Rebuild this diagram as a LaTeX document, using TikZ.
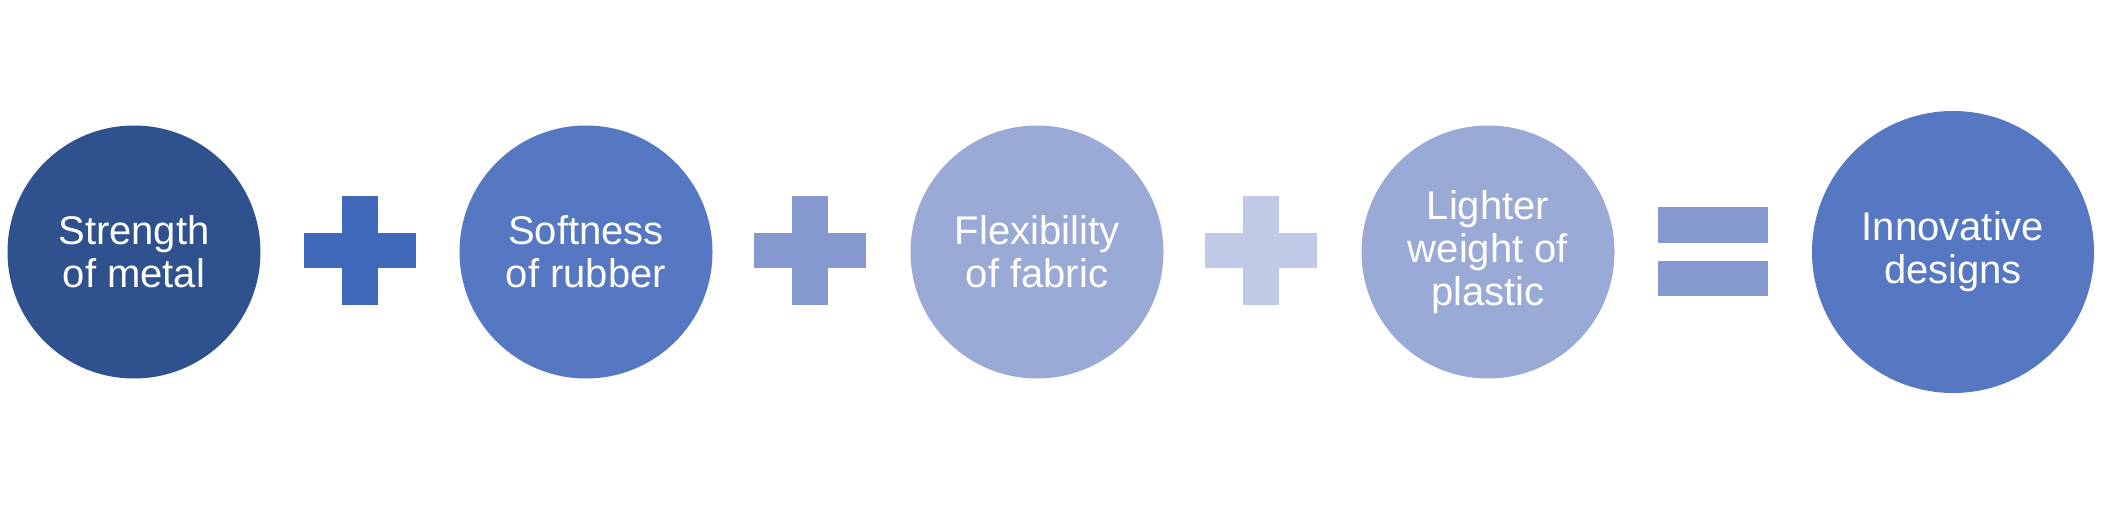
\documentclass[tikz,border=0pt]{standalone}
\usepackage{fontspec}
\setmainfont{Liberation Sans}
\definecolor{cA}{HTML}{2F528F}
\definecolor{cB}{HTML}{5677C1}
\definecolor{cC}{HTML}{99AAD6}
\definecolor{pA}{HTML}{4169B9}
\definecolor{pB}{HTML}{8599D0}
\definecolor{pC}{HTML}{C0CAE6}
\begin{document}
\begin{tikzpicture}[x=1pt,y=-1pt,
  bubble/.style={circle,inner sep=0pt,minimum size=253pt,text=white,align=center,
    font=\fontsize{40}{43}\selectfont},
  bigbubble/.style={bubble,minimum size=282pt}]
\useasboundingbox (0,0) rectangle (2103,508);
\node[bubble,fill=cA] (c1) at (134,252) {Strength\\of metal};
\node[bubble,fill=cB] (c2) at (586,252) {Softness\\of rubber};
\node[bubble,fill=cC] (c3) at (1037,252) {Flexibility\\of fabric};
\node[bubble,fill=cC] (c4) at (1488,252) {Lighter\\weight of\\plastic};
\node[bigbubble,fill=cB] (c5) at (1953,252) {Innovative\\designs};
% plus signs
\foreach \cx/\col [count=\i] in {361/pA,811/pB,1262/pC}{
  \fill[\col] (\cx-57,233) rectangle (\cx+55,268);
  \fill[\col] (\cx-19,196) rectangle (\cx+17,305);
}
% equals
\fill[pB] (1658,207) rectangle (1768,243);
\fill[pB] (1658,261) rectangle (1768,296);
\end{tikzpicture}
\end{document}
